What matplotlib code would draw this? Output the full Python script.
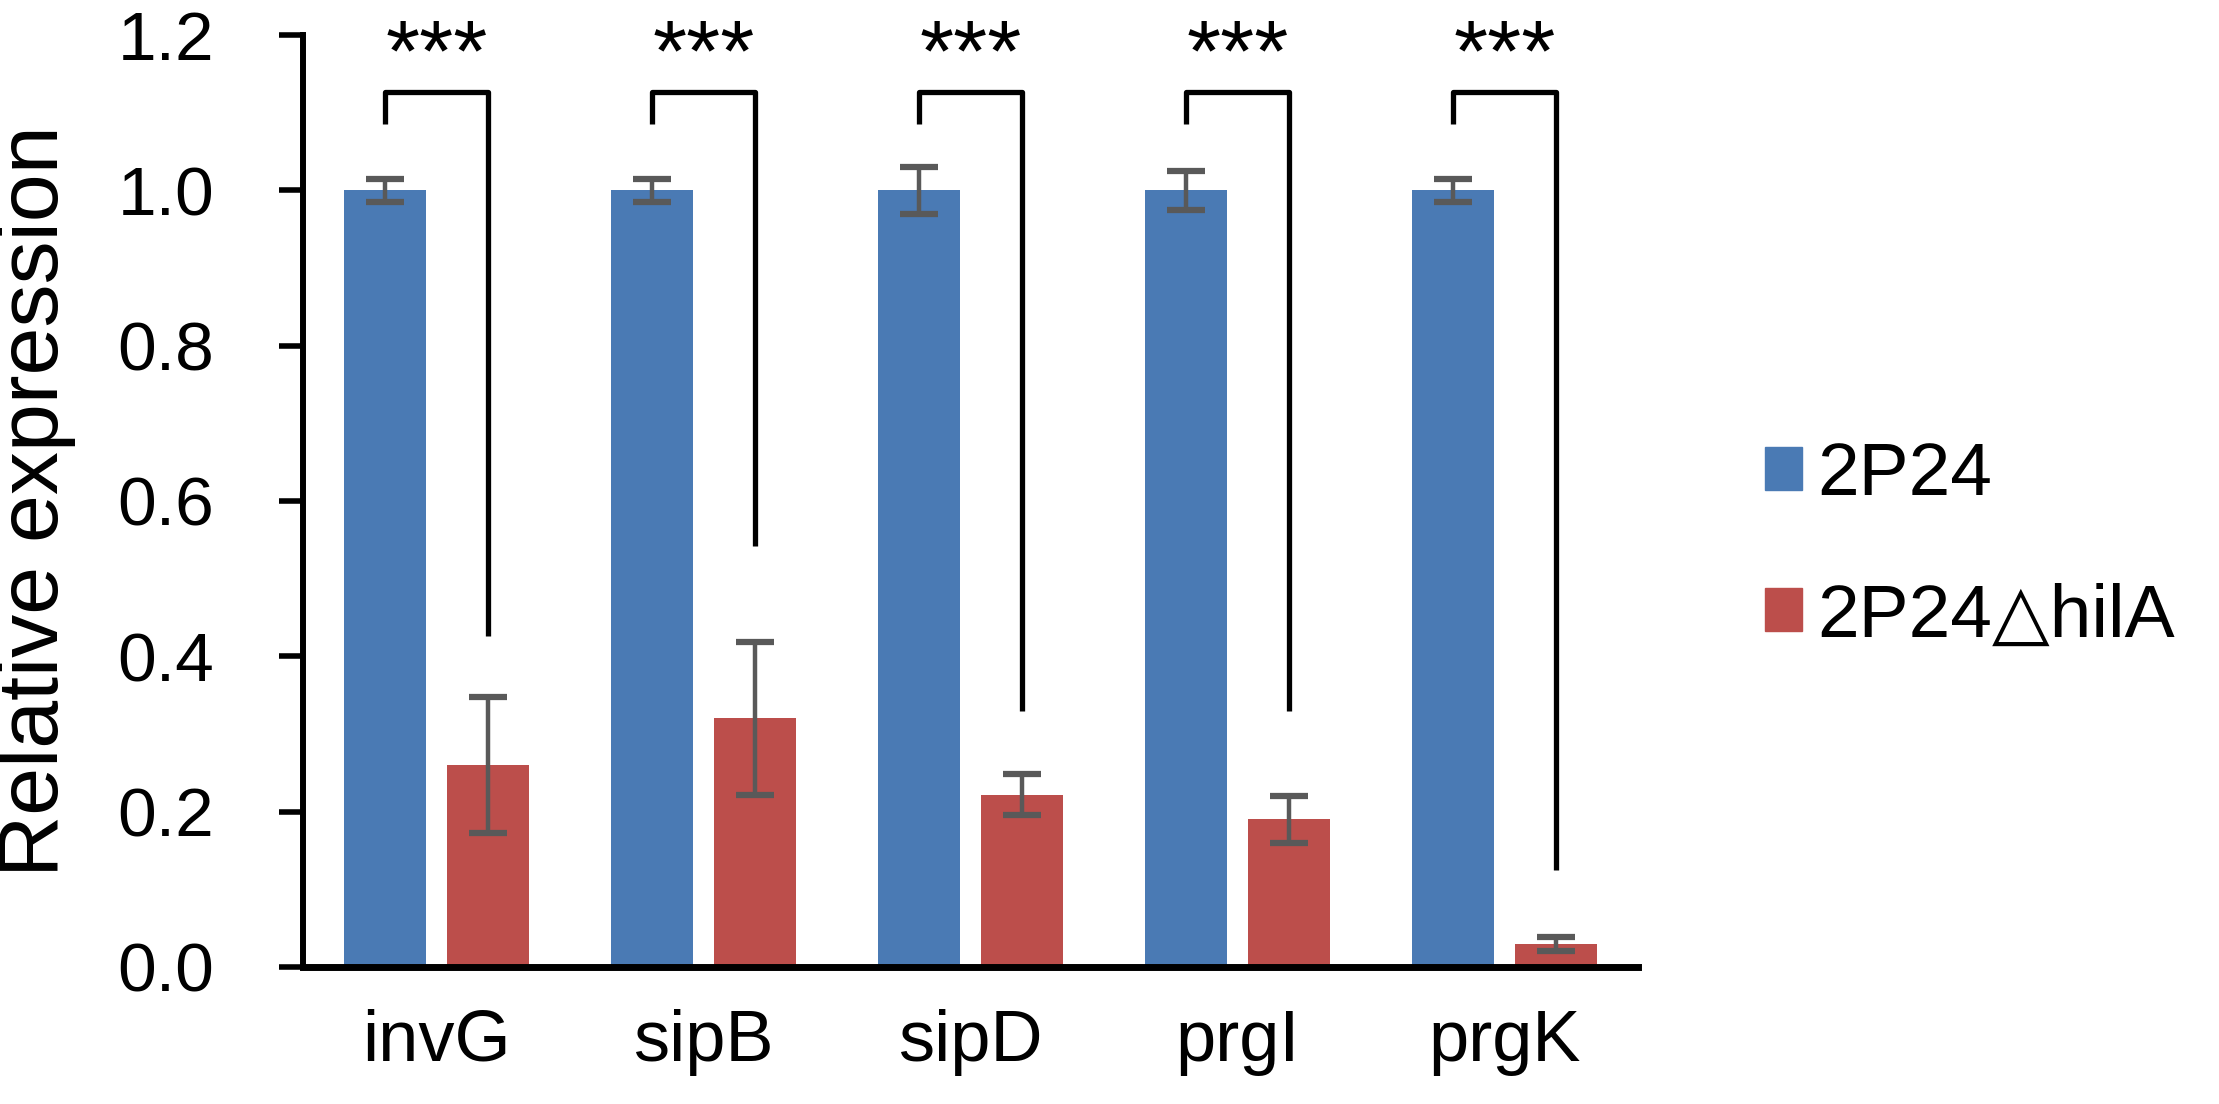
import numpy as np
import matplotlib
matplotlib.use("Agg")
import matplotlib.pyplot as plt
from matplotlib.patches import Patch

plt.rcParams['font.family'] = ['Liberation Sans', 'DejaVu Sans']

# data
genes = ['invG', 'sipB', 'sipD', 'prgI', 'prgK']
wt_mean = [1.0, 1.0, 1.0, 1.0, 1.0]
wt_err = [0.015, 0.015, 0.03, 0.025, 0.015]
mut_mean = [0.26, 0.32, 0.222, 0.19, 0.03]
mut_err = [0.087, 0.098, 0.026, 0.03, 0.009]
bracket_end = [0.426, 0.542, 0.33, 0.33, 0.125]
stars = ['***', '***', '***', '***', '***']
series_names = ['2P24', '2P24\u25b3hilA']
yticks = [0.0, 0.2, 0.4, 0.6, 0.8, 1.0, 1.2]

blue = '#4a7ab4'
red = '#bc4e4b'
errc = '#595959'

fig = plt.figure(figsize=(22.19, 11.04), dpi=100)
ax = fig.add_axes([0.1366, 0.1241, 0.6016, 0.8442])

x = np.arange(len(genes))
w = 0.307
off = 0.193
ekw = dict(ecolor=errc, elinewidth=3.2, capsize=13.5, capthick=4.5)
ax.bar(x - off, wt_mean, w, color=blue, yerr=wt_err, error_kw=ekw, zorder=2)
ax.bar(x + off, mut_mean, w, color=red, yerr=mut_err, error_kw=ekw, zorder=2)

# significance brackets
for i in range(len(genes)):
    xl = x[i] - off
    xr = x[i] + off
    ax.plot([xl, xl, xr, xr], [1.085, 1.127, 1.127, bracket_end[i]],
            color='black', lw=3.8, solid_capstyle='butt', clip_on=False, zorder=3)
    ax.text(x[i], 1.141, stars[i], ha='center', va='baseline', fontsize=63)

ax.set_xlim(-0.5, 4.5)
ax.set_ylim(0, 1.2)
ax.set_xticks(x)
ax.set_xticklabels(genes, fontsize=52)
ax.set_yticks(yticks)
ax.set_yticklabels(['%.1f' % v for v in yticks], fontsize=50)
ax.tick_params(axis='x', length=0, pad=30)
ax.tick_params(axis='y', direction='out', length=17, width=4, pad=47)

for s in ['top', 'right']:
    ax.spines[s].set_visible(False)
ax.spines['left'].set_linewidth(4.3)
ax.spines['bottom'].set_linewidth(5)

fig.text(36 / 2219, 1 - 501 / 1104, 'Relative expression', rotation=90,
         ha='center', va='center', fontsize=62)

handles = [Patch(color=blue), Patch(color=red)]
fig.legend(handles, series_names, loc='center left', bbox_to_anchor=(0.7954, 0.505),
           frameon=False, fontsize=54, handlelength=0.5, handleheight=0.5,
           handletextpad=0.2, labelspacing=0.96, borderpad=0, borderaxespad=0)

fig.savefig('out.png', dpi=100)
